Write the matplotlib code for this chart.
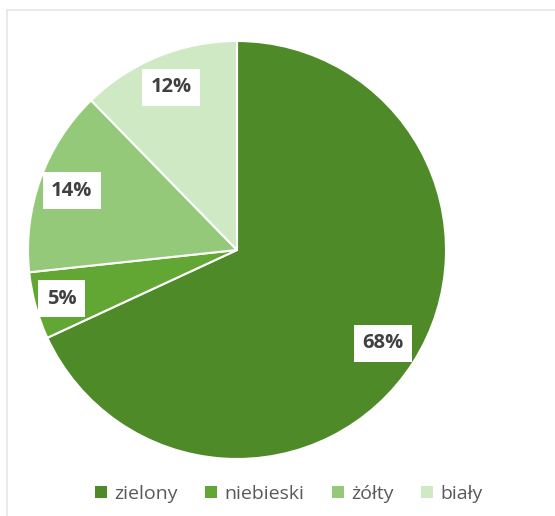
import matplotlib
matplotlib.use("Agg")
import matplotlib.pyplot as plt
import numpy as np
from matplotlib.lines import Line2D
from matplotlib.patches import Patch

categories = ["zielony", "niebieski", "żółty", "biały"]
values = [68.1, 5.2, 14.4, 12.3]
labels = ["68%", "5%", "14%", "12%"]
colors = ["#4E8A27", "#62A733", "#95C97A", "#CFE9C5"]

fig = plt.figure(figsize=(5.55, 5.16), dpi=100)
# light frame (top and left edges visible)
fig.add_artist(Line2D([7/555, 1.0], [1 - 10/516, 1 - 10/516], color="#E6E6E6", lw=1.2))
fig.add_artist(Line2D([7/555, 7/555], [1 - 10/516, 0.0], color="#E6E6E6", lw=1.2))

cx, cy, r = 237, 250, 209
ax = fig.add_axes([(cx - r)/555, 1 - (cy + r)/516, 2*r/555, 2*r/516])
wedges, _ = ax.pie(values, colors=colors, startangle=90, counterclock=False,
                   wedgeprops=dict(edgecolor="white", linewidth=1.5))
ax.set_xlim(-1, 1)
ax.set_ylim(-1, 1)
ax.set_aspect("auto")

dists = [0.83, 0.87, 0.84, 0.84]
total = sum(values)
start = 0.0
for v, lab, d in zip(values, labels, dists):
    mid = start + v / total * 360 / 2
    start += v / total * 360
    ang = np.deg2rad(mid)
    x = d * np.sin(ang)
    y = d * np.cos(ang)
    ax.text(x, y, lab, ha="center", va="center", fontsize=14.5, fontweight="bold",
            family="Open Sans", color="#404040",
            bbox=dict(boxstyle="square,pad=0.42", fc="white", ec="none"))

handles = [Patch(facecolor=c, edgecolor="none") for c in colors]
fig.legend(handles, categories, loc="center", bbox_to_anchor=(289/555, 1 - 494/516),
           ncol=4, frameon=False, prop=dict(family="Open Sans", size=14),
           labelcolor="#595959", handlelength=0.6, handleheight=0.6,
           handletextpad=0.4, columnspacing=1.4)

fig.savefig("out.png", dpi=100, facecolor="white")
